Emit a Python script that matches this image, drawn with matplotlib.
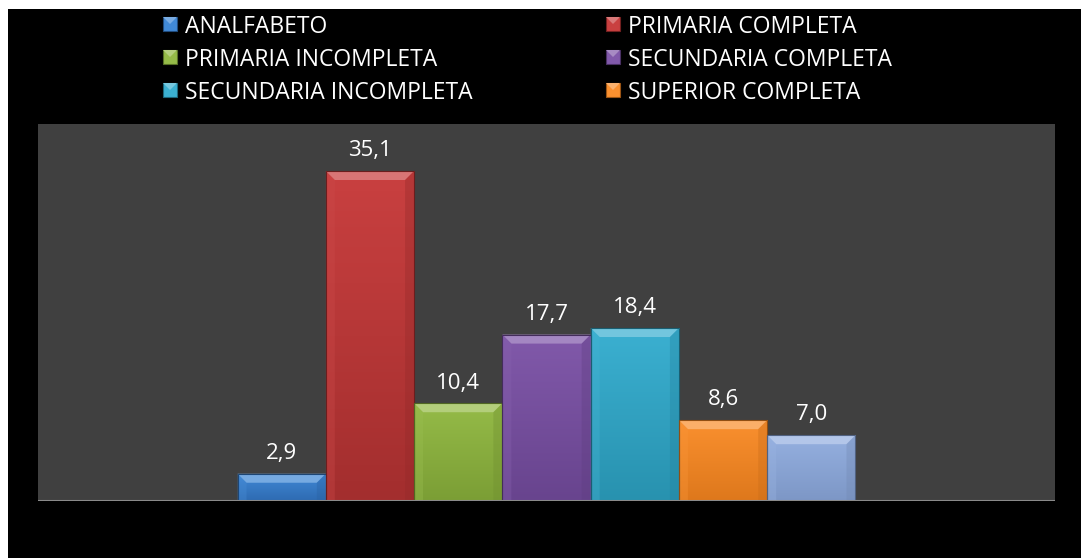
import numpy as np
import matplotlib
matplotlib.use("Agg")
import matplotlib.pyplot as plt
from matplotlib.patches import Rectangle, Polygon
from matplotlib.colors import to_rgb

categories = ["ANALFABETO", "PRIMARIA COMPLETA", "PRIMARIA INCOMPLETA",
              "SECUNDARIA COMPLETA", "SECUNDARIA INCOMPLETA", "SUPERIOR COMPLETA", ""]
values = [2.9, 35.1, 10.4, 17.7, 18.4, 8.6, 7.0]
labels = ["2,9", "35,1", "10,4", "17,7", "18,4", "8,6", "7,0"]
colors_top = ["#4189D6", "#C94040", "#95BB48", "#8159AA", "#3BB0D1", "#FA902F", "#95B0E0"]
colors_bot = ["#2E6BB2", "#A32E2E", "#7B9E35", "#68448E", "#2892AF", "#DE781C", "#7D97C6"]

plt.rcParams['font.family'] = ['Open Sans', 'DejaVu Sans']

W, H = 1081, 558
fig = plt.figure(figsize=(W / 100, H / 100), dpi=100, facecolor="white")
fig.patches.append(Rectangle((8 / W, 0), 1 - 8 / W, (H - 9) / H, transform=fig.transFigure,
                             facecolor="black", edgecolor="none", zorder=-5))

ax_l, ax_r, ax_t, ax_b = 38, 1055, 124, 501
ax = fig.add_axes([ax_l / W, (H - ax_b) / H, (ax_r - ax_l) / W, (ax_b - ax_t) / H])
ax.set_zorder(1)
ax.set_facecolor("#404040")
ax.set_xlim(-2.76, 8.76)
ax.set_ylim(0, 40.1)
for s in ax.spines.values():
    s.set_visible(False)
ax.set_xticks([])
ax.set_yticks([])
ax.axhline(0, color="#8A8A8A", lw=2.2, zorder=5, clip_on=True)

px_x = (ax_r - ax_l) / (8.76 + 2.76)
px_y = (ax_b - ax_t) / 40.1
bev = 9
dx = bev / px_x
dy = bev / px_y

def shade(c, f):
    r = np.array(to_rgb(c))
    if f >= 0:
        return tuple(r + (1 - r) * f)
    return tuple(r * (1 + f))

x = np.arange(len(values))
bars = ax.bar(x, values, width=1.0, color=colors_top, edgecolor="none", zorder=2)
for i, b in enumerate(bars):
    x0, w, h = b.get_x(), b.get_width(), b.get_height()
    x1 = x0 + w
    grad = np.linspace(0, 1, 100).reshape(-1, 1)
    ct, cb = np.array(to_rgb(colors_top[i])), np.array(to_rgb(colors_bot[i]))
    img = (cb[None, None, :] * (1 - grad[..., None]) + ct[None, None, :] * grad[..., None])
    im = ax.imshow(img, extent=[x0, x1, 0, h], origin="lower", aspect="auto", zorder=3)
    im.set_clip_path(b)
    dyy = min(dy, h / 2.2)
    top = Polygon([(x0, h), (x1, h), (x1 - dx, h - dyy), (x0 + dx, h - dyy)],
                  closed=True, facecolor=shade(colors_top[i], 0.28), edgecolor="none", zorder=4)
    left = Polygon([(x0, h), (x0 + dx, h - dyy), (x0 + dx, 0), (x0, 0)],
                   closed=True, facecolor=shade(colors_top[i], 0.05), edgecolor="none", zorder=4, alpha=0.35)
    right = Polygon([(x1, h), (x1 - dx, h - dyy), (x1 - dx, 0), (x1, 0)],
                    closed=True, facecolor=shade(colors_bot[i], -0.1), edgecolor="none", zorder=4, alpha=0.35)
    for p in (top, left, right):
        ax.add_patch(p)
    ax.add_patch(Rectangle((x0, 0), w, h, facecolor="none", edgecolor=shade(colors_bot[i], -0.35),
                           lw=0.8, zorder=4.5))
    ax.annotate(labels[i], (x[i], h), xytext=(0, 7), textcoords="offset points",
                ha="center", va="bottom", color="white", fontsize=16, zorder=6)

# legend (row-major, two columns)
col_x = [163, 606]
row_y = [24, 57, 90]
sq = 14
for i, name in enumerate(categories[:6]):
    r, c = divmod(i, 2)
    mx, my = col_x[c], row_y[r]
    fig.patches.append(Rectangle((mx / W, (H - my - sq / 2) / H), sq / W, sq / H,
                                 transform=fig.transFigure, facecolor=colors_top[i],
                                 edgecolor=shade(colors_bot[i], -0.3), lw=0.8, zorder=2))
    fig.patches.append(Polygon([(mx / W, (H - my + sq / 2) / H), ((mx + sq) / W, (H - my + sq / 2) / H),
                                ((mx + sq / 2) / W, (H - my) / H)], closed=True,
                               transform=fig.transFigure, facecolor=shade(colors_top[i], 0.3),
                               edgecolor="none", zorder=3))
    fig.text((mx + 22) / W, (H - my) / H, name, color="white", fontsize=16.5,
             ha="left", va="center_baseline")

fig.savefig("out.png", dpi=100, facecolor="white")
